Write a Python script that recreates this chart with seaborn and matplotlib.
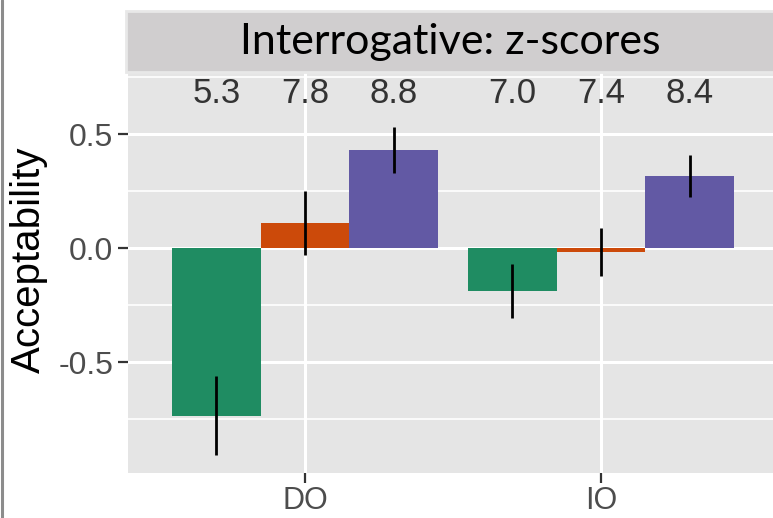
import matplotlib
matplotlib.use("Agg")
import matplotlib.pyplot as plt
from matplotlib.patches import Rectangle
from matplotlib.lines import Line2D
from matplotlib.ticker import MultipleLocator
import seaborn as sns
import pandas as pd

# ---- data ----
categories = ["DO", "IO"]
conditions = ["cond1", "cond2", "cond3"]
means = {"DO": [-0.735, 0.11, 0.43], "IO": [-0.19, -0.018, 0.316]}
errors = {"DO": [0.175, 0.14, 0.10], "IO": [0.118, 0.105, 0.093]}
top_labels = {"DO": ["5.3", "7.8", "8.8"], "IO": ["7.0", "7.4", "8.4"]}
colors = ["#1F8C62", "#CC4A0A", "#6259A4"]
title = "Interrogative: z-scores"
ylabel = "Acceptability"

rows = []
for c in categories:
    for i, h in enumerate(conditions):
        rows.append({"cat": c, "cond": h, "val": means[c][i],
                     "err": errors[c][i], "lab": top_labels[c][i]})
df = pd.DataFrame(rows)

sns.set_theme(style="darkgrid")
plt.rcParams["font.family"] = ["Liberation Sans", "DejaVu Sans"]
plt.rcParams["axes.unicode_minus"] = False

W, H = 773, 518
fig = plt.figure(figsize=(W / 100, H / 100), dpi=100)
fig.patch.set_facecolor("white")
L, R, T, B = 128, 773, 73, 473
ax = fig.add_axes([L / W, (H - B) / H, (R - L) / W, (B - T) / H])

sns.barplot(data=df, x="cat", y="val", hue="cond", order=categories,
            hue_order=conditions, palette=colors, width=0.9,
            errorbar=None, legend=False, ax=ax, saturation=1,
            linewidth=0)

ax.set_facecolor("#E5E5E5")
ax.set_xlim(-0.598, 1.581)
ax.set_ylim(-0.987, 0.768)

# error bars and labels from bar positions
bars = ax.patches
k = 0
for h_i, h in enumerate(conditions):
    for c in categories:
        p = bars[k]
        k += 1
        xc = p.get_x() + p.get_width() / 2
        r = df[(df.cat == c) & (df.cond == h)].iloc[0]
        ax.plot([xc, xc], [r.val - r.err, r.val + r.err], color="black",
                lw=2.0, solid_capstyle="butt", zorder=5)
        ax.text(xc, 0.68, r.lab, ha="center", va="center", fontsize=25,
                color="#333333", zorder=6)

ax.yaxis.set_major_locator(MultipleLocator(0.5))
ax.yaxis.set_minor_locator(MultipleLocator(0.25))
ax.grid(which="major", color="white", lw=2.2)
ax.grid(which="minor", axis="y", color="white", lw=1.2)
ax.set_axisbelow(True)
for s in ax.spines.values():
    s.set_visible(False)
ax.tick_params(axis="both", which="major", length=7.5, width=1.6,
               color="#333333", labelcolor="#4D4D4D", labelsize=23, pad=3,
               left=True, bottom=True)
ax.tick_params(axis="x", which="major", labelsize=22, pad=2)
ax.tick_params(axis="y", which="minor", length=0)
ax.set_yticks([-0.5, 0.0, 0.5])
ax.set_yticklabels(["-0.5", "0.0", "0.5"])
ax.set_xlabel("")
ax.set_ylabel(ylabel, fontsize=29, color="black")
ax.yaxis.set_label_coords(-0.124, 0.533)

# facet strip
fig.patches.append(Rectangle((126 / W, (H - 72) / H), (W - 126) / W + 0.01,
                             61 / H, transform=fig.transFigure,
                             facecolor="#D0CECF", edgecolor="#E8E8E8",
                             lw=2, zorder=0))
fig.text(450 / W, (H - 42) / H, title, ha="center", va="center",
         fontsize=31, color="black", family=["Lato", "DejaVu Sans"])

# left frame line
fig.lines.append(Line2D([1.5 / W, 1.5 / W], [0, 1], transform=fig.transFigure,
                        color="#8C8C8C", lw=2.2))

fig.savefig("out.png", dpi=100)
